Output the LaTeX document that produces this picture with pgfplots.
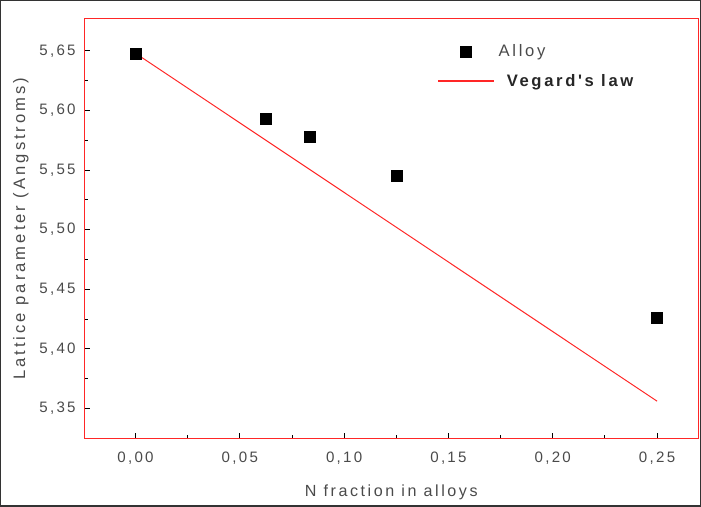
\documentclass[border=0pt]{standalone}
\usepackage{pgfplots}
\pgfplotsset{compat=1.18}
\usepackage{fontspec}
\setmainfont{Liberation Sans}
\newfontfamily\tickfont[LetterSpace=15]{Liberation Sans}
\newfontfamily\xlabfont[LetterSpace=16]{Liberation Sans}
\newfontfamily\ylabfont[LetterSpace=18]{Liberation Sans}
\newfontfamily\legfont[LetterSpace=16]{Liberation Sans}
\definecolor{txt}{HTML}{4A4A4A}
\begin{document}
\begin{tikzpicture}[x=1pt,y=1pt]
\begin{axis}[
  scale only axis,
  width=610pt, height=417pt,
  xmin=-0.0246, xmax=0.2698,
  ymin=5.3246, ymax=5.677,
  axis line style={red!85!white, line width=1pt},
  xtick={0,0.05,0.10,0.15,0.20,0.25},
  xticklabels={{0,00},{0,05},{0,10},{0,15},{0,20},{0,25}},
  ytick={5.35,5.40,5.45,5.50,5.55,5.60,5.65},
  yticklabels={{5,35},{5,40},{5,45},{5,50},{5,55},{5,60},{5,65}},
  minor x tick num=1, minor y tick num=1,
  tick pos=left,
  tick align=inside,
  major tick length=6pt, minor tick length=4pt,
  tick style={black, line width=0.9pt},
  ticklabel style={font=\fontsize{15}{17}\tickfont, text=txt},
  xticklabel style={yshift=-10pt},
  yticklabel style={xshift=-5pt},
  xlabel={N fraction in alloys},
  ylabel={Lattice parameter (Angstroms)},
  xlabel style={font=\fontsize{16}{18}\xlabfont, text=txt, yshift=-13pt},
  ylabel style={font=\fontsize{16.5}{18}\ylabfont, text=txt, yshift=4pt},
  legend style={draw=none, fill=none, at={(rel axis cs:0.57,0.948)}, anchor=north west,
    font=\fontsize{16.5}{19}\legfont, row sep=12pt},
  legend cell align=left,
  legend image code/.code={\draw[#1, line width=1.8pt] (0pt,0pt) -- (55pt,0pt);},
]
\addplot[only marks, mark=square*, mark size=5.5pt, black,
  legend image code/.code={\draw[black, fill=black] (22pt,-5.5pt) rectangle (33pt,5.5pt);}]
  coordinates {(0,5.648) (0.0625,5.593) (0.0833,5.578) (0.125,5.545) (0.25,5.426)};
\addlegendentry{\hspace{2pt}\textcolor{txt}{Alloy}}
\addplot[red!85!white, line width=1pt] coordinates {(0,5.648) (0.25,5.356)};
\addlegendentry{\hspace{10pt}\textcolor{black!85}{\bfseries Vegard's law}}
\end{axis}
\draw[black!80, line width=1.2pt] (-83pt,-67pt) rectangle (612pt,435pt);
\end{tikzpicture}
\end{document}
